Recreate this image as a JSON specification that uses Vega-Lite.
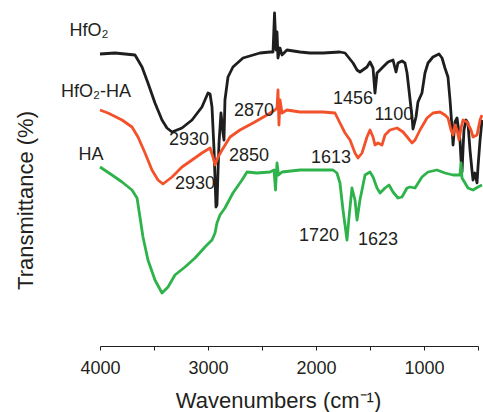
{
  "$schema": "https://vega.github.io/schema/vega-lite/v6.json",
  "width": 378,
  "height": 346,
  "autosize": {"type": "none"},
  "padding": {"left": 100, "top": 0, "right": 5, "bottom": 66},
  "background": "white",
  "config": {
    "view": {"stroke": null},
    "font": "Liberation Sans",
    "text": {"font": "Liberation Sans"}
  },
  "datasets": {
    "spectra": [
      {"series": "HfO2", "w": 4000, "T": 292}, {"series": "HfO2", "w": 3861, "T": 293}, {"series": "HfO2", "w": 3676, "T": 291}, {"series": "HfO2", "w": 3611, "T": 279}, {"series": "HfO2", "w": 3556, "T": 263}, {"series": "HfO2", "w": 3491, "T": 243}, {"series": "HfO2", "w": 3426, "T": 226}, {"series": "HfO2", "w": 3380, "T": 218}, {"series": "HfO2", "w": 3333, "T": 214}, {"series": "HfO2", "w": 3241, "T": 218}, {"series": "HfO2", "w": 3148, "T": 226}, {"series": "HfO2", "w": 3056, "T": 239}, {"series": "HfO2", "w": 3000, "T": 253}, {"series": "HfO2", "w": 2981, "T": 252}, {"series": "HfO2", "w": 2963, "T": 239}, {"series": "HfO2", "w": 2944, "T": 196}, {"series": "HfO2", "w": 2926, "T": 139}, {"series": "HfO2", "w": 2917, "T": 141}, {"series": "HfO2", "w": 2907, "T": 176}, {"series": "HfO2", "w": 2898, "T": 203}, {"series": "HfO2", "w": 2880, "T": 233}, {"series": "HfO2", "w": 2861, "T": 213}, {"series": "HfO2", "w": 2852, "T": 206}, {"series": "HfO2", "w": 2843, "T": 246}, {"series": "HfO2", "w": 2815, "T": 269}, {"series": "HfO2", "w": 2769, "T": 279}, {"series": "HfO2", "w": 2676, "T": 288}, {"series": "HfO2", "w": 2519, "T": 293}, {"series": "HfO2", "w": 2426, "T": 294}, {"series": "HfO2", "w": 2398, "T": 294}, {"series": "HfO2", "w": 2384, "T": 333}, {"series": "HfO2", "w": 2370, "T": 296}, {"series": "HfO2", "w": 2361, "T": 314}, {"series": "HfO2", "w": 2352, "T": 288}, {"series": "HfO2", "w": 2333, "T": 298}, {"series": "HfO2", "w": 2315, "T": 291}, {"series": "HfO2", "w": 2269, "T": 296}, {"series": "HfO2", "w": 2148, "T": 294}, {"series": "HfO2", "w": 2056, "T": 293}, {"series": "HfO2", "w": 1935, "T": 293}, {"series": "HfO2", "w": 1778, "T": 294}, {"series": "HfO2", "w": 1731, "T": 293}, {"series": "HfO2", "w": 1657, "T": 283}, {"series": "HfO2", "w": 1620, "T": 276}, {"series": "HfO2", "w": 1593, "T": 274}, {"series": "HfO2", "w": 1528, "T": 279}, {"series": "HfO2", "w": 1500, "T": 284}, {"series": "HfO2", "w": 1472, "T": 278}, {"series": "HfO2", "w": 1454, "T": 253}, {"series": "HfO2", "w": 1435, "T": 273}, {"series": "HfO2", "w": 1407, "T": 276}, {"series": "HfO2", "w": 1380, "T": 279}, {"series": "HfO2", "w": 1333, "T": 284}, {"series": "HfO2", "w": 1287, "T": 286}, {"series": "HfO2", "w": 1259, "T": 274}, {"series": "HfO2", "w": 1241, "T": 283}, {"series": "HfO2", "w": 1204, "T": 285}, {"series": "HfO2", "w": 1176, "T": 283}, {"series": "HfO2", "w": 1157, "T": 273}, {"series": "HfO2", "w": 1139, "T": 256}, {"series": "HfO2", "w": 1111, "T": 229}, {"series": "HfO2", "w": 1102, "T": 217}, {"series": "HfO2", "w": 1074, "T": 229}, {"series": "HfO2", "w": 1056, "T": 244}, {"series": "HfO2", "w": 1019, "T": 253}, {"series": "HfO2", "w": 991, "T": 273}, {"series": "HfO2", "w": 963, "T": 283}, {"series": "HfO2", "w": 917, "T": 289}, {"series": "HfO2", "w": 861, "T": 292}, {"series": "HfO2", "w": 833, "T": 288}, {"series": "HfO2", "w": 806, "T": 278}, {"series": "HfO2", "w": 778, "T": 269}, {"series": "HfO2", "w": 759, "T": 246}, {"series": "HfO2", "w": 741, "T": 219}, {"series": "HfO2", "w": 731, "T": 201}, {"series": "HfO2", "w": 713, "T": 224}, {"series": "HfO2", "w": 694, "T": 228}, {"series": "HfO2", "w": 676, "T": 213}, {"series": "HfO2", "w": 667, "T": 206}, {"series": "HfO2", "w": 657, "T": 186}, {"series": "HfO2", "w": 648, "T": 174}, {"series": "HfO2", "w": 639, "T": 196}, {"series": "HfO2", "w": 630, "T": 216}, {"series": "HfO2", "w": 611, "T": 226}, {"series": "HfO2", "w": 593, "T": 223}, {"series": "HfO2", "w": 574, "T": 196}, {"series": "HfO2", "w": 556, "T": 176}, {"series": "HfO2", "w": 546, "T": 166}, {"series": "HfO2", "w": 528, "T": 173}, {"series": "HfO2", "w": 509, "T": 163}, {"series": "HfO2", "w": 500, "T": 179}, {"series": "HfO2", "w": 481, "T": 206}, {"series": "HfO2", "w": 463, "T": 226},

      {"series": "HfO2-HA", "w": 4000, "T": 236}, {"series": "HfO2-HA", "w": 3926, "T": 233}, {"series": "HfO2-HA", "w": 3796, "T": 226}, {"series": "HfO2-HA", "w": 3704, "T": 219}, {"series": "HfO2-HA", "w": 3648, "T": 209}, {"series": "HfO2-HA", "w": 3583, "T": 193}, {"series": "HfO2-HA", "w": 3519, "T": 176}, {"series": "HfO2-HA", "w": 3463, "T": 166}, {"series": "HfO2-HA", "w": 3417, "T": 162}, {"series": "HfO2-HA", "w": 3333, "T": 169}, {"series": "HfO2-HA", "w": 3241, "T": 179}, {"series": "HfO2-HA", "w": 3148, "T": 186}, {"series": "HfO2-HA", "w": 3056, "T": 193}, {"series": "HfO2-HA", "w": 2981, "T": 198}, {"series": "HfO2-HA", "w": 2954, "T": 189}, {"series": "HfO2-HA", "w": 2935, "T": 181}, {"series": "HfO2-HA", "w": 2917, "T": 186}, {"series": "HfO2-HA", "w": 2907, "T": 189}, {"series": "HfO2-HA", "w": 2870, "T": 196}, {"series": "HfO2-HA", "w": 2796, "T": 209}, {"series": "HfO2-HA", "w": 2704, "T": 216}, {"series": "HfO2-HA", "w": 2583, "T": 223}, {"series": "HfO2-HA", "w": 2454, "T": 231}, {"series": "HfO2-HA", "w": 2380, "T": 236}, {"series": "HfO2-HA", "w": 2361, "T": 238}, {"series": "HfO2-HA", "w": 2352, "T": 256}, {"series": "HfO2-HA", "w": 2343, "T": 221}, {"series": "HfO2-HA", "w": 2333, "T": 246}, {"series": "HfO2-HA", "w": 2315, "T": 233}, {"series": "HfO2-HA", "w": 2269, "T": 236}, {"series": "HfO2-HA", "w": 2148, "T": 234}, {"series": "HfO2-HA", "w": 1935, "T": 234}, {"series": "HfO2-HA", "w": 1824, "T": 233}, {"series": "HfO2-HA", "w": 1778, "T": 223}, {"series": "HfO2-HA", "w": 1731, "T": 213}, {"series": "HfO2-HA", "w": 1685, "T": 206}, {"series": "HfO2-HA", "w": 1639, "T": 193}, {"series": "HfO2-HA", "w": 1611, "T": 188}, {"series": "HfO2-HA", "w": 1574, "T": 193}, {"series": "HfO2-HA", "w": 1528, "T": 209}, {"series": "HfO2-HA", "w": 1500, "T": 216}, {"series": "HfO2-HA", "w": 1472, "T": 209}, {"series": "HfO2-HA", "w": 1454, "T": 201}, {"series": "HfO2-HA", "w": 1426, "T": 203}, {"series": "HfO2-HA", "w": 1389, "T": 201}, {"series": "HfO2-HA", "w": 1361, "T": 211}, {"series": "HfO2-HA", "w": 1315, "T": 216}, {"series": "HfO2-HA", "w": 1250, "T": 218}, {"series": "HfO2-HA", "w": 1194, "T": 214}, {"series": "HfO2-HA", "w": 1148, "T": 208}, {"series": "HfO2-HA", "w": 1111, "T": 203}, {"series": "HfO2-HA", "w": 1083, "T": 206}, {"series": "HfO2-HA", "w": 1037, "T": 216}, {"series": "HfO2-HA", "w": 972, "T": 228}, {"series": "HfO2-HA", "w": 917, "T": 233}, {"series": "HfO2-HA", "w": 852, "T": 234}, {"series": "HfO2-HA", "w": 806, "T": 231}, {"series": "HfO2-HA", "w": 778, "T": 228}, {"series": "HfO2-HA", "w": 750, "T": 216}, {"series": "HfO2-HA", "w": 731, "T": 211}, {"series": "HfO2-HA", "w": 713, "T": 221}, {"series": "HfO2-HA", "w": 694, "T": 216}, {"series": "HfO2-HA", "w": 676, "T": 206}, {"series": "HfO2-HA", "w": 657, "T": 218}, {"series": "HfO2-HA", "w": 639, "T": 226}, {"series": "HfO2-HA", "w": 602, "T": 224}, {"series": "HfO2-HA", "w": 565, "T": 216}, {"series": "HfO2-HA", "w": 546, "T": 209}, {"series": "HfO2-HA", "w": 509, "T": 211}, {"series": "HfO2-HA", "w": 481, "T": 226}, {"series": "HfO2-HA", "w": 463, "T": 231},

      {"series": "HA", "w": 4000, "T": 179}, {"series": "HA", "w": 3889, "T": 171}, {"series": "HA", "w": 3796, "T": 164}, {"series": "HA", "w": 3704, "T": 156}, {"series": "HA", "w": 3657, "T": 148}, {"series": "HA", "w": 3630, "T": 129}, {"series": "HA", "w": 3602, "T": 109}, {"series": "HA", "w": 3556, "T": 86}, {"series": "HA", "w": 3491, "T": 66}, {"series": "HA", "w": 3426, "T": 53}, {"series": "HA", "w": 3370, "T": 59}, {"series": "HA", "w": 3306, "T": 71}, {"series": "HA", "w": 3213, "T": 79}, {"series": "HA", "w": 3120, "T": 88}, {"series": "HA", "w": 3028, "T": 99}, {"series": "HA", "w": 2963, "T": 106}, {"series": "HA", "w": 2935, "T": 113}, {"series": "HA", "w": 2917, "T": 123}, {"series": "HA", "w": 2889, "T": 131}, {"series": "HA", "w": 2843, "T": 138}, {"series": "HA", "w": 2769, "T": 153}, {"series": "HA", "w": 2685, "T": 166}, {"series": "HA", "w": 2639, "T": 174}, {"series": "HA", "w": 2546, "T": 173}, {"series": "HA", "w": 2426, "T": 174}, {"series": "HA", "w": 2389, "T": 176}, {"series": "HA", "w": 2375, "T": 156}, {"series": "HA", "w": 2361, "T": 183}, {"series": "HA", "w": 2347, "T": 171}, {"series": "HA", "w": 2315, "T": 174}, {"series": "HA", "w": 2148, "T": 176}, {"series": "HA", "w": 1991, "T": 176}, {"series": "HA", "w": 1843, "T": 176}, {"series": "HA", "w": 1806, "T": 173}, {"series": "HA", "w": 1778, "T": 163}, {"series": "HA", "w": 1750, "T": 136}, {"series": "HA", "w": 1713, "T": 106}, {"series": "HA", "w": 1694, "T": 129}, {"series": "HA", "w": 1667, "T": 158}, {"series": "HA", "w": 1639, "T": 146}, {"series": "HA", "w": 1620, "T": 126}, {"series": "HA", "w": 1593, "T": 146}, {"series": "HA", "w": 1546, "T": 171}, {"series": "HA", "w": 1500, "T": 174}, {"series": "HA", "w": 1472, "T": 169}, {"series": "HA", "w": 1435, "T": 158}, {"series": "HA", "w": 1407, "T": 153}, {"series": "HA", "w": 1361, "T": 158}, {"series": "HA", "w": 1324, "T": 161}, {"series": "HA", "w": 1287, "T": 154}, {"series": "HA", "w": 1241, "T": 148}, {"series": "HA", "w": 1204, "T": 149}, {"series": "HA", "w": 1157, "T": 158}, {"series": "HA", "w": 1130, "T": 159}, {"series": "HA", "w": 1083, "T": 158}, {"series": "HA", "w": 1019, "T": 169}, {"series": "HA", "w": 963, "T": 174}, {"series": "HA", "w": 880, "T": 176}, {"series": "HA", "w": 806, "T": 173}, {"series": "HA", "w": 731, "T": 171}, {"series": "HA", "w": 667, "T": 171}, {"series": "HA", "w": 657, "T": 183}, {"series": "HA", "w": 648, "T": 168}, {"series": "HA", "w": 620, "T": 163}, {"series": "HA", "w": 593, "T": 158}, {"series": "HA", "w": 546, "T": 156}, {"series": "HA", "w": 500, "T": 159}, {"series": "HA", "w": 463, "T": 161}
    ],
    "notes": [
      {"label": "2930", "w": 3176, "T": 206},
      {"label": "2930", "w": 3120, "T": 162},
      {"label": "2870", "w": 2574, "T": 235},
      {"label": "2850", "w": 2620, "T": 190},
      {"label": "1456", "w": 1657, "T": 247},
      {"label": "1100", "w": 1278, "T": 231},
      {"label": "1613", "w": 1861, "T": 188},
      {"label": "1720", "w": 1972, "T": 110},
      {"label": "1623", "w": 1426, "T": 106},
      {"label": "HfO₂", "w": 4102, "T": 315},
      {"label": "HfO₂-HA", "w": 4037, "T": 254},
      {"label": "HA", "w": 4083, "T": 191}
    ]
  },
  "layer": [
    {
      "data": {"name": "spectra"},
      "mark": {"type": "line", "strokeWidth": 2.8, "clip": false, "strokeJoin": "round"},
      "encoding": {
        "x": {
          "field": "w", "type": "quantitative",
          "scale": {"domain": [4000, 500], "nice": false, "zero": false},
          "axis": {
            "values": [4000, 3500, 3000, 2500, 2000, 1500, 1000, 500],
            "labelExpr": "datum.value % 1000 === 0 ? datum.label : ''",
            "format": "d",
            "grid": false,
            "domainColor": "#231f20",
            "tickColor": "#231f20",
            "tickSize": 4,
            "labelFontSize": 18,
            "labelColor": "#231f20",
            "labelPadding": 9,
            "labelFlush": false,
            "labelOverlap": false,
            "title": "Wavenumbers (cm⁻¹)",
            "titleFontSize": 22,
            "titleFontWeight": "normal",
            "titleColor": "#231f20",
            "titleX": 178,
            "titleY": 61,
            "titleBaseline": "alphabetic",
            "titleAlign": "center"
          }
        },
        "y": {
          "field": "T", "type": "quantitative",
          "scale": {"domain": [0, 346], "nice": false, "zero": false},
          "axis": {
            "domain": false, "ticks": false, "labels": false, "grid": false,
            "title": "Transmittance (%)",
            "titleFontSize": 22,
            "titleFontWeight": "normal",
            "titleColor": "#231f20",
            "titleX": -68,
            "titleY": 200,
            "titleAngle": 270,
            "titleBaseline": "alphabetic",
            "titleAlign": "center"
          }
        },
        "color": {
          "field": "series", "type": "nominal",
          "scale": {"domain": ["HfO2", "HfO2-HA", "HA"], "range": ["#1e1e1e", "#f2512a", "#2db34a"]},
          "legend": null
        }
      }
    },
    {
      "data": {"name": "notes"},
      "mark": {"type": "text", "fontSize": 18, "color": "#231f20", "align": "center", "baseline": "middle", "font": "Liberation Sans"},
      "encoding": {
        "x": {"field": "w", "type": "quantitative"},
        "y": {"field": "T", "type": "quantitative"},
        "text": {"field": "label"}
      }
    }
  ]
}
